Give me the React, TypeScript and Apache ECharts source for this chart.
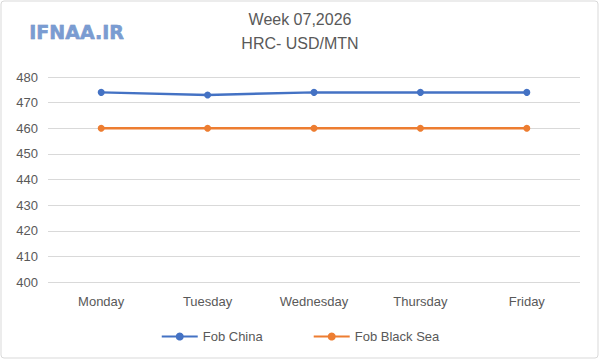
import React, { useEffect, useRef } from "react";
import * as echarts from "echarts";

const categories = ["Monday", "Tuesday", "Wednesday", "Thursday", "Friday"];
const fobChina = [474, 473, 474, 474, 474];
const fobBlackSea = [460, 460, 460, 460, 460];
const titleLine1 = "Week 07,2026";
const titleLine2 = "HRC- USD/MTN";
const logoText = "IFNAA.IR";

export default function App() {
  const ref = useRef<HTMLDivElement>(null);
  useEffect(() => {
    document.body.style.margin = "0";
    const chart = echarts.init(ref.current!, null, { renderer: "svg" });
    const font = "'Liberation Sans', Arial, sans-serif";
    chart.setOption({
      animation: false,
      backgroundColor: "#ffffff",
      textStyle: { fontFamily: font },
      graphic: [
        {
          type: "rect",
          shape: { x: 1, y: 1, width: 597, height: 357, r: 3 },
          style: { fill: "none", stroke: "#d9d9d9", lineWidth: 1 },
          silent: true,
        },
        {
          type: "text",
          left: 29,
          top: 22,
          style: {
            text: logoText,
            font: "bold 19px 'DejaVu Sans', sans-serif",
            fill: "#7a9cd2",
            stroke: "#5a7fb8",
            lineWidth: 0.5,
            shadowColor: "rgba(40,60,100,0.45)",
            shadowBlur: 2,
            shadowOffsetX: 1,
            shadowOffsetY: 1,
          },
        },
        {
          type: "text",
          x: 300,
          y: 19,
          style: {
            text: titleLine1,
            font: "16px 'Liberation Sans', Arial, sans-serif",
            fill: "#595959",
            align: "center",
            verticalAlign: "middle",
          },
        },
        {
          type: "text",
          x: 300,
          y: 43,
          style: {
            text: titleLine2,
            font: "16px 'Liberation Sans', Arial, sans-serif",
            fill: "#595959",
            align: "center",
            verticalAlign: "middle",
          },
        },
      ],
      legend: {
        bottom: 12,
        left: "center",
        itemGap: 50,
        itemWidth: 36,
        itemHeight: 10,
        textStyle: { color: "#595959", fontSize: 13, fontFamily: font },
        data: ["Fob China", "Fob Black Sea"],
      },
      grid: { left: 48, right: 20, top: 77, bottom: 78 },
      xAxis: {
        type: "category",
        data: categories,
        boundaryGap: true,
        axisLine: { show: false },
        axisTick: { show: false },
        axisLabel: { color: "#595959", fontSize: 13, margin: 13 },
      },
      yAxis: {
        type: "value",
        min: 400,
        max: 480,
        interval: 10,
        axisLine: { show: false },
        axisTick: { show: false },
        axisLabel: { color: "#595959", fontSize: 13, margin: 10 },
        splitLine: { lineStyle: { color: "#d9d9d9", width: 1 } },
      },
      series: [
        {
          name: "Fob China",
          type: "line",
          data: fobChina,
          symbol: "circle",
          symbolSize: 7,
          color: "#4472c4",
          lineStyle: { width: 2.5, color: "#4472c4" },
          itemStyle: { color: "#4472c4" },
        },
        {
          name: "Fob Black Sea",
          type: "line",
          data: fobBlackSea,
          symbol: "circle",
          symbolSize: 7,
          color: "#ed7d31",
          lineStyle: { width: 2.5, color: "#ed7d31" },
          itemStyle: { color: "#ed7d31" },
        },
      ],
    });
    return () => chart.dispose();
  }, []);
  return <div ref={ref} style={{ width: 600, height: 360 }} />;
}
